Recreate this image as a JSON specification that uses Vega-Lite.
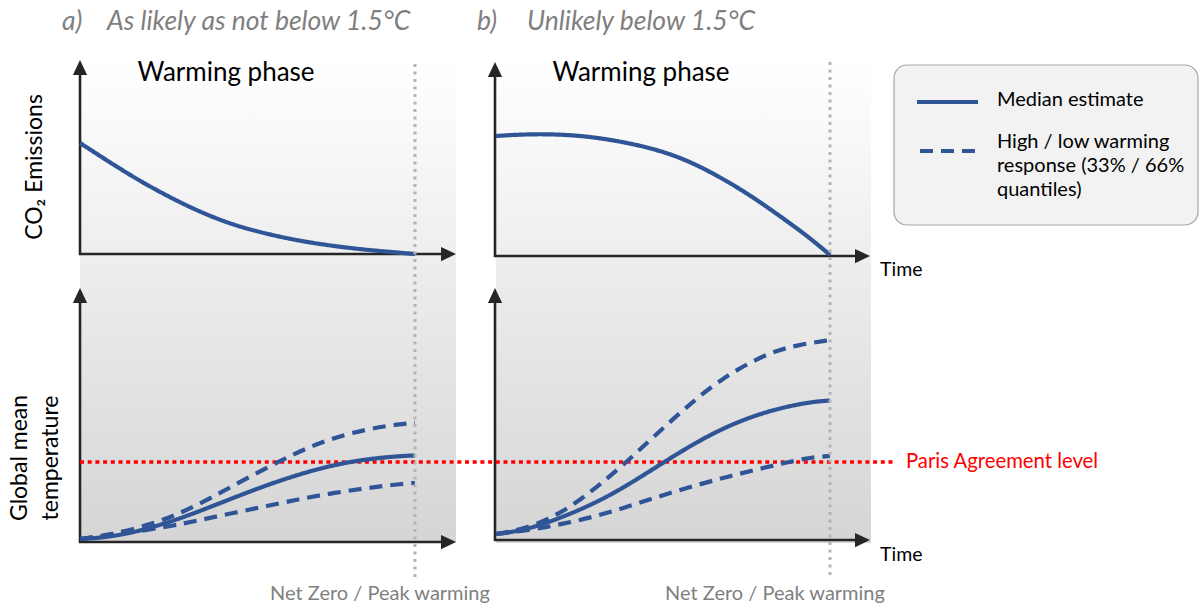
{
  "$schema": "https://vega.github.io/schema/vega-lite/v6.json",
  "width": 1200,
  "height": 607,
  "autosize": {"type": "fit", "contains": "padding"},
  "padding": 0,
  "background": "white",
  "config": {"view": {"stroke": null}, "font": "Lato"},
  "datasets": {
    "panels": [
      {"panel": "a", "x": 80, "x2": 456, "y": 60, "y2": 543},
      {"panel": "b", "x": 496, "x2": 871, "y": 60, "y2": 543}
    ],
    "legendBox": [
      {"x": 894, "x2": 1198, "y": 65, "y2": 225}
    ],
    "axes": [
      {"panel": "a", "part": "emissions-y", "x": 80, "y": 255, "x2": 80, "y2": 72},
      {"panel": "a", "part": "emissions-x", "x": 79, "y": 254, "x2": 446, "y2": 254},
      {"panel": "a", "part": "temperature-y", "x": 80, "y": 543, "x2": 80, "y2": 300},
      {"panel": "a", "part": "temperature-x", "x": 79, "y": 542, "x2": 446, "y2": 542},
      {"panel": "b", "part": "emissions-y", "x": 495, "y": 257, "x2": 495, "y2": 74},
      {"panel": "b", "part": "emissions-x", "x": 494, "y": 256, "x2": 860, "y2": 256},
      {"panel": "b", "part": "temperature-y", "x": 495, "y": 541, "x2": 495, "y2": 300},
      {"panel": "b", "part": "temperature-x", "x": 494, "y": 540, "x2": 860, "y2": 540}
    ],
    "arrows": [
      {"direction": "up", "x": 80, "y": 67.5},
      {"direction": "right", "x": 448.5, "y": 254},
      {"direction": "up", "x": 80, "y": 295.5},
      {"direction": "right", "x": 448.5, "y": 542},
      {"direction": "up", "x": 495, "y": 69.5},
      {"direction": "right", "x": 862.5, "y": 256},
      {"direction": "up", "x": 495, "y": 295.5},
      {"direction": "right", "x": 862.5, "y": 540}
    ],
    "netZero": [
      {"panel": "a", "x": 415, "y": 64, "x2": 415, "y2": 577},
      {"panel": "b", "x": 830, "y": 62, "x2": 830, "y2": 577}
    ],
    "paris": [
      {"x": 80, "y": 462, "x2": 893, "y2": 462}
    ],
    "curves": [
      {"series": "a-emissions", "estimate": "median", "x": 80, "y": 143},
      {"series": "a-emissions", "estimate": "median", "x": 100, "y": 156},
      {"series": "a-emissions", "estimate": "median", "x": 133, "y": 177},
      {"series": "a-emissions", "estimate": "median", "x": 167, "y": 196},
      {"series": "a-emissions", "estimate": "median", "x": 200, "y": 212},
      {"series": "a-emissions", "estimate": "median", "x": 233, "y": 225},
      {"series": "a-emissions", "estimate": "median", "x": 267, "y": 234},
      {"series": "a-emissions", "estimate": "median", "x": 300, "y": 241},
      {"series": "a-emissions", "estimate": "median", "x": 333, "y": 246},
      {"series": "a-emissions", "estimate": "median", "x": 367, "y": 250},
      {"series": "a-emissions", "estimate": "median", "x": 415, "y": 254},

      {"series": "b-emissions", "estimate": "median", "x": 496, "y": 136},
      {"series": "b-emissions", "estimate": "median", "x": 520, "y": 134.5},
      {"series": "b-emissions", "estimate": "median", "x": 547, "y": 134},
      {"series": "b-emissions", "estimate": "median", "x": 580, "y": 135.5},
      {"series": "b-emissions", "estimate": "median", "x": 613, "y": 140},
      {"series": "b-emissions", "estimate": "median", "x": 647, "y": 147},
      {"series": "b-emissions", "estimate": "median", "x": 680, "y": 157},
      {"series": "b-emissions", "estimate": "median", "x": 713, "y": 173},
      {"series": "b-emissions", "estimate": "median", "x": 747, "y": 193},
      {"series": "b-emissions", "estimate": "median", "x": 780, "y": 216},
      {"series": "b-emissions", "estimate": "median", "x": 810, "y": 238},
      {"series": "b-emissions", "estimate": "median", "x": 830, "y": 255},

      {"series": "a-temp-median", "estimate": "median", "x": 80, "y": 539},
      {"series": "a-temp-median", "estimate": "median", "x": 100, "y": 538},
      {"series": "a-temp-median", "estimate": "median", "x": 133, "y": 533},
      {"series": "a-temp-median", "estimate": "median", "x": 173, "y": 521},
      {"series": "a-temp-median", "estimate": "median", "x": 200, "y": 511},
      {"series": "a-temp-median", "estimate": "median", "x": 233, "y": 498},
      {"series": "a-temp-median", "estimate": "median", "x": 267, "y": 485},
      {"series": "a-temp-median", "estimate": "median", "x": 300, "y": 474},
      {"series": "a-temp-median", "estimate": "median", "x": 333, "y": 465},
      {"series": "a-temp-median", "estimate": "median", "x": 367, "y": 459},
      {"series": "a-temp-median", "estimate": "median", "x": 400, "y": 456},
      {"series": "a-temp-median", "estimate": "median", "x": 415, "y": 455.5},

      {"series": "a-temp-high", "estimate": "high", "x": 80, "y": 539},
      {"series": "a-temp-high", "estimate": "high", "x": 110, "y": 535},
      {"series": "a-temp-high", "estimate": "high", "x": 153, "y": 524},
      {"series": "a-temp-high", "estimate": "high", "x": 183, "y": 512},
      {"series": "a-temp-high", "estimate": "high", "x": 213, "y": 497},
      {"series": "a-temp-high", "estimate": "high", "x": 247, "y": 478},
      {"series": "a-temp-high", "estimate": "high", "x": 280, "y": 461},
      {"series": "a-temp-high", "estimate": "high", "x": 307, "y": 448},
      {"series": "a-temp-high", "estimate": "high", "x": 333, "y": 438},
      {"series": "a-temp-high", "estimate": "high", "x": 367, "y": 429},
      {"series": "a-temp-high", "estimate": "high", "x": 400, "y": 424},
      {"series": "a-temp-high", "estimate": "high", "x": 415, "y": 423},

      {"series": "a-temp-low", "estimate": "low", "x": 80, "y": 539},
      {"series": "a-temp-low", "estimate": "low", "x": 120, "y": 534},
      {"series": "a-temp-low", "estimate": "low", "x": 167, "y": 527},
      {"series": "a-temp-low", "estimate": "low", "x": 200, "y": 520},
      {"series": "a-temp-low", "estimate": "low", "x": 233, "y": 513},
      {"series": "a-temp-low", "estimate": "low", "x": 267, "y": 506},
      {"series": "a-temp-low", "estimate": "low", "x": 300, "y": 499},
      {"series": "a-temp-low", "estimate": "low", "x": 333, "y": 493},
      {"series": "a-temp-low", "estimate": "low", "x": 367, "y": 488},
      {"series": "a-temp-low", "estimate": "low", "x": 400, "y": 484},
      {"series": "a-temp-low", "estimate": "low", "x": 415, "y": 483},

      {"series": "b-temp-median", "estimate": "median", "x": 496, "y": 534},
      {"series": "b-temp-median", "estimate": "median", "x": 520, "y": 531},
      {"series": "b-temp-median", "estimate": "median", "x": 547, "y": 523},
      {"series": "b-temp-median", "estimate": "median", "x": 580, "y": 510},
      {"series": "b-temp-median", "estimate": "median", "x": 613, "y": 494},
      {"series": "b-temp-median", "estimate": "median", "x": 647, "y": 473},
      {"series": "b-temp-median", "estimate": "median", "x": 680, "y": 452},
      {"series": "b-temp-median", "estimate": "median", "x": 713, "y": 433},
      {"series": "b-temp-median", "estimate": "median", "x": 747, "y": 418},
      {"series": "b-temp-median", "estimate": "median", "x": 780, "y": 408},
      {"series": "b-temp-median", "estimate": "median", "x": 810, "y": 402},
      {"series": "b-temp-median", "estimate": "median", "x": 830, "y": 400.5},

      {"series": "b-temp-high", "estimate": "high", "x": 496, "y": 534},
      {"series": "b-temp-high", "estimate": "high", "x": 520, "y": 530},
      {"series": "b-temp-high", "estimate": "high", "x": 547, "y": 520},
      {"series": "b-temp-high", "estimate": "high", "x": 572, "y": 506},
      {"series": "b-temp-high", "estimate": "high", "x": 597, "y": 487},
      {"series": "b-temp-high", "estimate": "high", "x": 622, "y": 466},
      {"series": "b-temp-high", "estimate": "high", "x": 647, "y": 443},
      {"series": "b-temp-high", "estimate": "high", "x": 672, "y": 420},
      {"series": "b-temp-high", "estimate": "high", "x": 697, "y": 398},
      {"series": "b-temp-high", "estimate": "high", "x": 722, "y": 379},
      {"series": "b-temp-high", "estimate": "high", "x": 747, "y": 364},
      {"series": "b-temp-high", "estimate": "high", "x": 772, "y": 352},
      {"series": "b-temp-high", "estimate": "high", "x": 797, "y": 345},
      {"series": "b-temp-high", "estimate": "high", "x": 830, "y": 340},

      {"series": "b-temp-low", "estimate": "low", "x": 496, "y": 534},
      {"series": "b-temp-low", "estimate": "low", "x": 530, "y": 530},
      {"series": "b-temp-low", "estimate": "low", "x": 563, "y": 524},
      {"series": "b-temp-low", "estimate": "low", "x": 597, "y": 516},
      {"series": "b-temp-low", "estimate": "low", "x": 630, "y": 506},
      {"series": "b-temp-low", "estimate": "low", "x": 663, "y": 495},
      {"series": "b-temp-low", "estimate": "low", "x": 697, "y": 485},
      {"series": "b-temp-low", "estimate": "low", "x": 730, "y": 476},
      {"series": "b-temp-low", "estimate": "low", "x": 763, "y": 468},
      {"series": "b-temp-low", "estimate": "low", "x": 797, "y": 460},
      {"series": "b-temp-low", "estimate": "low", "x": 815, "y": 457},
      {"series": "b-temp-low", "estimate": "low", "x": 830, "y": 456}
    ],
    "legendLines": [
      {"estimate": "median", "x": 917, "x2": 978, "y": 102, "y2": 102},
      {"estimate": "high", "x": 920, "x2": 982, "y": 151, "y2": 151}
    ],
    "panelTitles": [
      {"text": "a)", "x": 62, "y": 22},
      {"text": "As likely as not below 1.5°C", "x": 107, "y": 22},
      {"text": "b)", "x": 477, "y": 22},
      {"text": "Unlikely below 1.5°C", "x": 527, "y": 22}
    ],
    "phaseLabels": [
      {"text": "Warming phase", "x": 226, "y": 73},
      {"text": "Warming phase", "x": 641, "y": 73}
    ],
    "timeLabels": [
      {"text": "Time", "x": 880, "y": 270},
      {"text": "Time", "x": 880, "y": 555}
    ],
    "netZeroLabels": [
      {"text": "Net Zero / Peak warming", "x": 380, "y": 594},
      {"text": "Net Zero / Peak warming", "x": 775, "y": 594}
    ],
    "parisLabel": [
      {"text": "Paris Agreement level", "x": 906, "y": 462}
    ],
    "legendTexts": [
      {"text": "Median estimate", "x": 997, "y": 100},
      {"text": "High / low warming", "x": 997, "y": 142},
      {"text": "response (33% / 66%", "x": 997, "y": 166},
      {"text": "quantiles)", "x": 997, "y": 190}
    ],
    "yLabels": [
      {"text": "CO₂ Emissions", "x": 35, "y": 167},
      {"text": "Global mean", "x": 20, "y": 458},
      {"text": "temperature", "x": 51, "y": 458}
    ]
  },
  "encoding": {
    "x": {"field": "x", "type": "quantitative", "axis": null, "scale": {"domain": [0, 1200], "nice": false, "zero": false}},
    "y": {"field": "y", "type": "quantitative", "axis": null, "scale": {"domain": [0, 607], "nice": false, "zero": false, "reverse": true}}
  },
  "layer": [
    {
      "data": {"name": "panels"},
      "mark": {"type": "rect", "color": {"gradient": "linear", "x1": 0, "y1": 0, "x2": 0, "y2": 1, "stops": [{"offset": 0, "color": "#ffffff"}, {"offset": 1, "color": "#d5d5d5"}]}},
      "encoding": {"x2": {"field": "x2"}, "y2": {"field": "y2"}}
    },
    {
      "data": {"name": "legendBox"},
      "mark": {"type": "rect", "fill": "#f2f2f2", "stroke": "#a6a6a6", "strokeWidth": 1.2, "cornerRadius": 13},
      "encoding": {"x2": {"field": "x2"}, "y2": {"field": "y2"}}
    },
    {
      "data": {"name": "axes"},
      "mark": {"type": "rule", "color": "#262626", "strokeWidth": 2.6},
      "encoding": {"x2": {"field": "x2"}, "y2": {"field": "y2"}}
    },
    {
      "data": {"name": "paris"},
      "mark": {"type": "rule", "color": "#ff0000", "strokeWidth": 3.5, "strokeDash": [4, 3.7]},
      "encoding": {"x2": {"field": "x2"}, "y2": {"field": "y2"}}
    },
    {
      "data": {"name": "curves"},
      "mark": {"type": "line", "color": "#2f5597", "strokeWidth": 4.2, "interpolate": "basis"},
      "encoding": {
        "detail": {"field": "series"},
        "strokeDash": {"field": "estimate", "type": "nominal", "legend": null, "scale": {"domain": ["median", "high", "low"], "range": [[1, 0], [13, 8], [13, 8]]}}
      }
    },
    {
      "data": {"name": "netZero"},
      "mark": {"type": "rule", "color": "#b4b4b4", "strokeWidth": 3, "strokeDash": [3, 4.5]},
      "encoding": {"x2": {"field": "x2"}, "y2": {"field": "y2"}}
    },
    {
      "data": {"name": "arrows"},
      "mark": {"type": "point", "filled": true, "color": "#262626", "opacity": 1, "size": 225},
      "encoding": {
        "shape": {"field": "direction", "type": "nominal", "legend": null, "scale": {"domain": ["up", "right"], "range": ["M0,-1L-0.95,1L0.95,1Z", "M1,0L-1,-0.95L-1,0.95Z"]}}
      }
    },
    {
      "data": {"name": "legendLines"},
      "mark": {"type": "rule", "color": "#2f5597", "strokeWidth": 4.2},
      "encoding": {
        "x2": {"field": "x2"}, "y2": {"field": "y2"},
        "strokeDash": {"field": "estimate", "type": "nominal", "legend": null, "scale": {"domain": ["median", "high", "low"], "range": [[1, 0], [15, 5], [15, 5]]}}
      }
    },
    {
      "data": {"name": "panelTitles"},
      "mark": {"type": "text", "align": "left", "baseline": "middle", "fontSize": 26.5, "fontStyle": "italic", "color": "#7f7f7f"},
      "encoding": {"text": {"field": "text"}}
    },
    {
      "data": {"name": "phaseLabels"},
      "mark": {"type": "text", "align": "center", "baseline": "middle", "fontSize": 26, "color": "#000000"},
      "encoding": {"text": {"field": "text"}}
    },
    {
      "data": {"name": "timeLabels"},
      "mark": {"type": "text", "align": "left", "baseline": "middle", "fontSize": 19.5, "color": "#000000"},
      "encoding": {"text": {"field": "text"}}
    },
    {
      "data": {"name": "netZeroLabels"},
      "mark": {"type": "text", "align": "center", "baseline": "middle", "fontSize": 20, "color": "#7f7f7f"},
      "encoding": {"text": {"field": "text"}}
    },
    {
      "data": {"name": "parisLabel"},
      "mark": {"type": "text", "align": "left", "baseline": "middle", "fontSize": 20.3, "color": "#ff0000"},
      "encoding": {"text": {"field": "text"}}
    },
    {
      "data": {"name": "legendTexts"},
      "mark": {"type": "text", "align": "left", "baseline": "middle", "fontSize": 20, "color": "#000000"},
      "encoding": {"text": {"field": "text"}}
    },
    {
      "data": {"name": "yLabels"},
      "mark": {"type": "text", "align": "center", "baseline": "middle", "fontSize": 23, "angle": 270, "color": "#000000"},
      "encoding": {"text": {"field": "text"}}
    }
  ]
}
